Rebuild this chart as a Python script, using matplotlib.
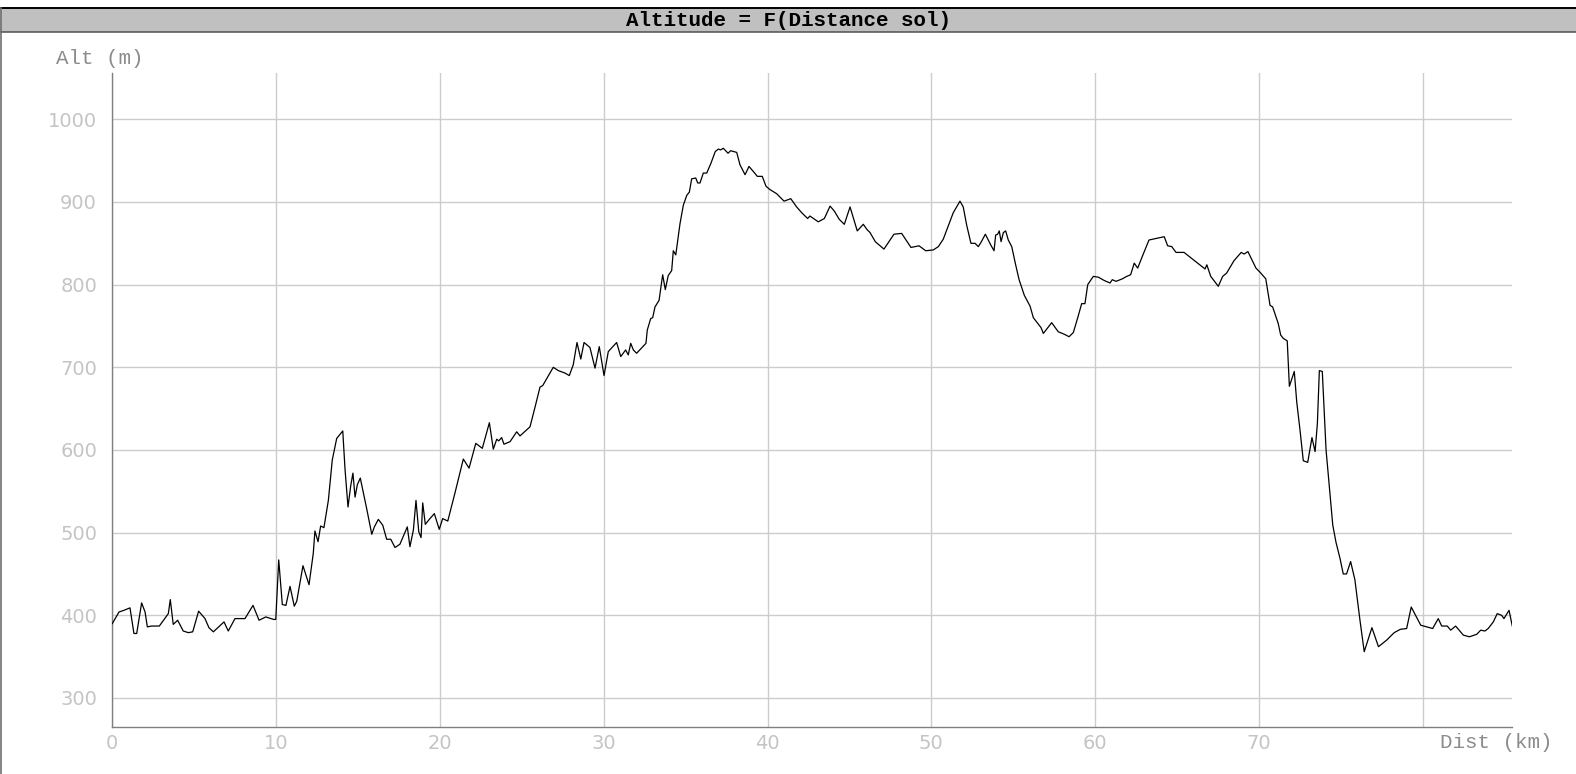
import matplotlib
matplotlib.use("Agg")
import matplotlib.pyplot as plt
from matplotlib.patches import Rectangle
from matplotlib.lines import Line2D

# profile
dist_km = [
    0.00, 0.41, 0.71, 1.08, 1.32, 1.49, 1.79, 2.00, 2.14, 2.41,
    2.87, 3.42, 3.54, 3.72, 3.99, 4.33, 4.64, 4.91, 5.27, 5.66,
    5.90, 6.17, 6.82, 7.08, 7.49, 8.10, 8.59, 8.96, 9.37, 9.85,
    9.98, 10.16, 10.38, 10.60, 10.85, 11.11, 11.26, 11.64, 12.01, 12.27,
    12.37, 12.56, 12.72, 12.92, 13.19, 13.43, 13.70, 14.07, 14.21, 14.39,
    14.55, 14.69, 14.82, 14.96, 15.14, 15.53, 15.84, 16.00, 16.24, 16.51,
    16.75, 17.00, 17.26, 17.56, 18.01, 18.17, 18.38, 18.54, 18.71, 18.85,
    18.95, 19.11, 19.35, 19.66, 19.96, 20.17, 20.48, 20.92, 21.43, 21.78,
    22.19, 22.59, 23.02, 23.26, 23.47, 23.59, 23.77, 23.91, 24.28, 24.69,
    24.89, 25.50, 25.81, 26.11, 26.28, 26.92, 27.23, 27.64, 27.90, 28.14,
    28.37, 28.60, 28.80, 29.16, 29.47, 29.73, 30.02, 30.28, 30.79, 31.04,
    31.34, 31.50, 31.65, 31.81, 32.01, 32.58, 32.66, 32.87, 32.99, 33.13,
    33.38, 33.60, 33.76, 33.94, 34.15, 34.25, 34.40, 34.66, 34.86, 35.07,
    35.23, 35.37, 35.62, 35.74, 35.88, 36.08, 36.29, 36.55, 36.81, 37.00,
    37.14, 37.30, 37.59, 37.75, 38.12, 38.32, 38.63, 38.87, 39.13, 39.38,
    39.68, 39.91, 40.15, 40.56, 40.76, 41.01, 41.42, 41.78, 42.09, 42.45,
    42.59, 43.10, 43.47, 43.82, 44.08, 44.38, 44.69, 45.04, 45.48, 45.85,
    46.06, 46.26, 46.58, 47.11, 47.72, 48.19, 48.76, 49.25, 49.66, 50.12,
    50.43, 50.73, 51.34, 51.75, 51.95, 52.16, 52.42, 52.67, 52.87, 53.03,
    53.30, 53.63, 53.83, 53.93, 54.05, 54.15, 54.26, 54.40, 54.54, 54.70,
    54.91, 55.15, 55.36, 55.68, 56.03, 56.23, 56.70, 56.84, 57.35, 57.75,
    58.12, 58.41, 58.67, 58.94, 59.18, 59.38, 59.55, 59.89, 60.20, 60.56,
    60.91, 61.05, 61.28, 61.66, 61.93, 62.17, 62.39, 62.60, 62.94, 63.29,
    63.76, 64.22, 64.43, 64.68, 64.94, 65.43, 66.71, 66.82, 67.06, 67.52,
    67.79, 68.03, 68.48, 68.92, 69.10, 69.33, 69.82, 70.07, 70.42, 70.68,
    70.84, 71.18, 71.33, 71.49, 71.73, 71.86, 72.16, 72.31, 72.51, 72.71,
    72.98, 73.24, 73.43, 73.57, 73.69, 73.87, 74.10, 74.28, 74.51, 74.71,
    74.95, 75.15, 75.35, 75.60, 75.86, 76.17, 76.43, 76.90, 77.30, 77.80,
    78.26, 78.63, 79.02, 79.30, 79.88, 80.61, 80.95, 81.16, 81.50, 81.71,
    82.01, 82.48, 82.85, 83.30, 83.54, 83.80, 84.00, 84.31, 84.55, 84.82,
    84.96, 85.27, 85.47,
]
alt_m = [
    390, 404, 406, 409, 378, 378, 415, 404, 386, 387,
    387, 402, 419, 389, 394, 381, 379, 380, 405, 396,
    385, 380, 392, 381, 396, 396, 412, 394, 398, 395,
    395, 467, 413, 412, 435, 411, 417, 460, 437, 475,
    502, 489, 508, 506, 539, 588, 614, 623, 576, 531,
    556, 572, 543, 558, 566, 529, 498, 507, 516, 509,
    492, 492, 482, 486, 507, 483, 503, 539, 501, 494,
    536, 510, 516, 523, 504, 517, 514, 548, 589, 578,
    608, 602, 633, 601, 613, 611, 615, 607, 610, 622,
    617, 628, 652, 676, 678, 700, 696, 693, 690, 703,
    730, 710, 730, 724, 699, 725, 690, 719, 730, 713,
    721, 715, 729, 721, 717, 729, 745, 759, 760, 773,
    781, 812, 794, 811, 817, 841, 836, 874, 896, 908,
    912, 928, 929, 923, 923, 935, 935, 947, 961, 964,
    963, 965, 959, 962, 960, 945, 933, 943, 937, 931,
    931, 919, 915, 910, 906, 901, 904, 894, 887, 880,
    883, 876, 880, 895, 889, 879, 873, 894, 865, 873,
    867, 863, 852, 843, 861, 862, 845, 847, 841, 842,
    846, 855, 887, 901, 894, 872, 850, 850, 846, 851,
    861, 848, 841, 860, 861, 865, 852, 863, 865, 854,
    846, 824, 806, 787, 774, 760, 748, 741, 754, 743,
    740, 737, 742, 760, 777, 777, 800, 810, 809, 805,
    802, 806, 804, 807, 810, 812, 826, 820, 837, 854,
    856, 858, 847, 846, 839, 839, 819, 824, 810, 798,
    810, 814, 829, 839, 837, 840, 820, 815, 807, 775,
    773, 753, 739, 735, 732, 677, 695, 658, 624, 587,
    585, 615, 598, 632, 696, 695, 600, 560, 509, 488,
    469, 450, 450, 465, 443, 394, 356, 385, 362, 370,
    379, 383, 384, 410, 388, 384, 396, 387, 387, 382,
    387, 376, 374, 377, 382, 381, 384, 392, 402, 400,
    396, 406, 387,
]

x_ticks = [0, 10, 20, 30, 40, 50, 60, 70, 80]
# the 80 label is not drawn in the original (the axis title sits there)
x_tick_labels = ["0", "10", "20", "30", "40", "50", "60", "70", ""]
y_ticks = [300, 400, 500, 600, 700, 800, 900, 1000]

W, H = 1576, 774
fig = plt.figure(figsize=(W / 100, H / 100), dpi=100)
fig.patch.set_facecolor("white")

# title bar and frame
fig.patches.append(Rectangle((0, (H - 32.3) / H), 1, 24 / H, transform=fig.transFigure,
                             facecolor="#c0c0c0", edgecolor="none", zorder=0))
fig.lines.append(Line2D([0, 1], [(H - 8.3) / H] * 2, transform=fig.transFigure,
                        color="black", lw=1.4))
fig.lines.append(Line2D([0, 1], [(H - 32.3) / H] * 2, transform=fig.transFigure,
                        color="#505050", lw=1.1))
fig.lines.append(Line2D([0.8 / W] * 2, [0, (H - 8.3) / H], transform=fig.transFigure,
                        color="#707070", lw=1.2))
fig.text(0.5, (H - 20.5) / H, "Altitude = F(Distance sol)", ha="center", va="center",
         family="Liberation Mono", weight="bold", fontsize=15, color="black")

ax = fig.add_axes([112.3 / W, (H - 727.3) / H, 1400 / W, (727.3 - 72.7) / H])
ax.plot(dist_km, alt_m, color="black", lw=0.9, zorder=3)

ax.set_xlim(0, 85.47)
ax.set_ylim(264.5, 1056.4)
ax.set_xticks(x_ticks)
ax.set_xticklabels(x_tick_labels)
ax.set_yticks(y_ticks)
ax.grid(True, color="#cccccc", lw=1.0)
ax.set_axisbelow(True)

for side in ["top", "right"]:
    ax.spines[side].set_visible(False)
for side in ["left", "bottom"]:
    ax.spines[side].set_color("#808080")
    ax.spines[side].set_linewidth(1.0)

ax.tick_params(axis="both", length=0, labelsize=14, labelcolor="#c4c4c4")
ax.tick_params(axis="y", pad=11)
ax.tick_params(axis="x", pad=5)

fig.text(56 / W, (H - 58.3) / H, "Alt (m)", ha="left", va="center",
         family="Liberation Mono", fontsize=15, color="#8c8c8c")
fig.text(1440 / W, (H - 742.7) / H, "Dist (km)", ha="left", va="center",
         family="Liberation Mono", fontsize=15, color="#8c8c8c")

fig.savefig("out.png", dpi=100)
